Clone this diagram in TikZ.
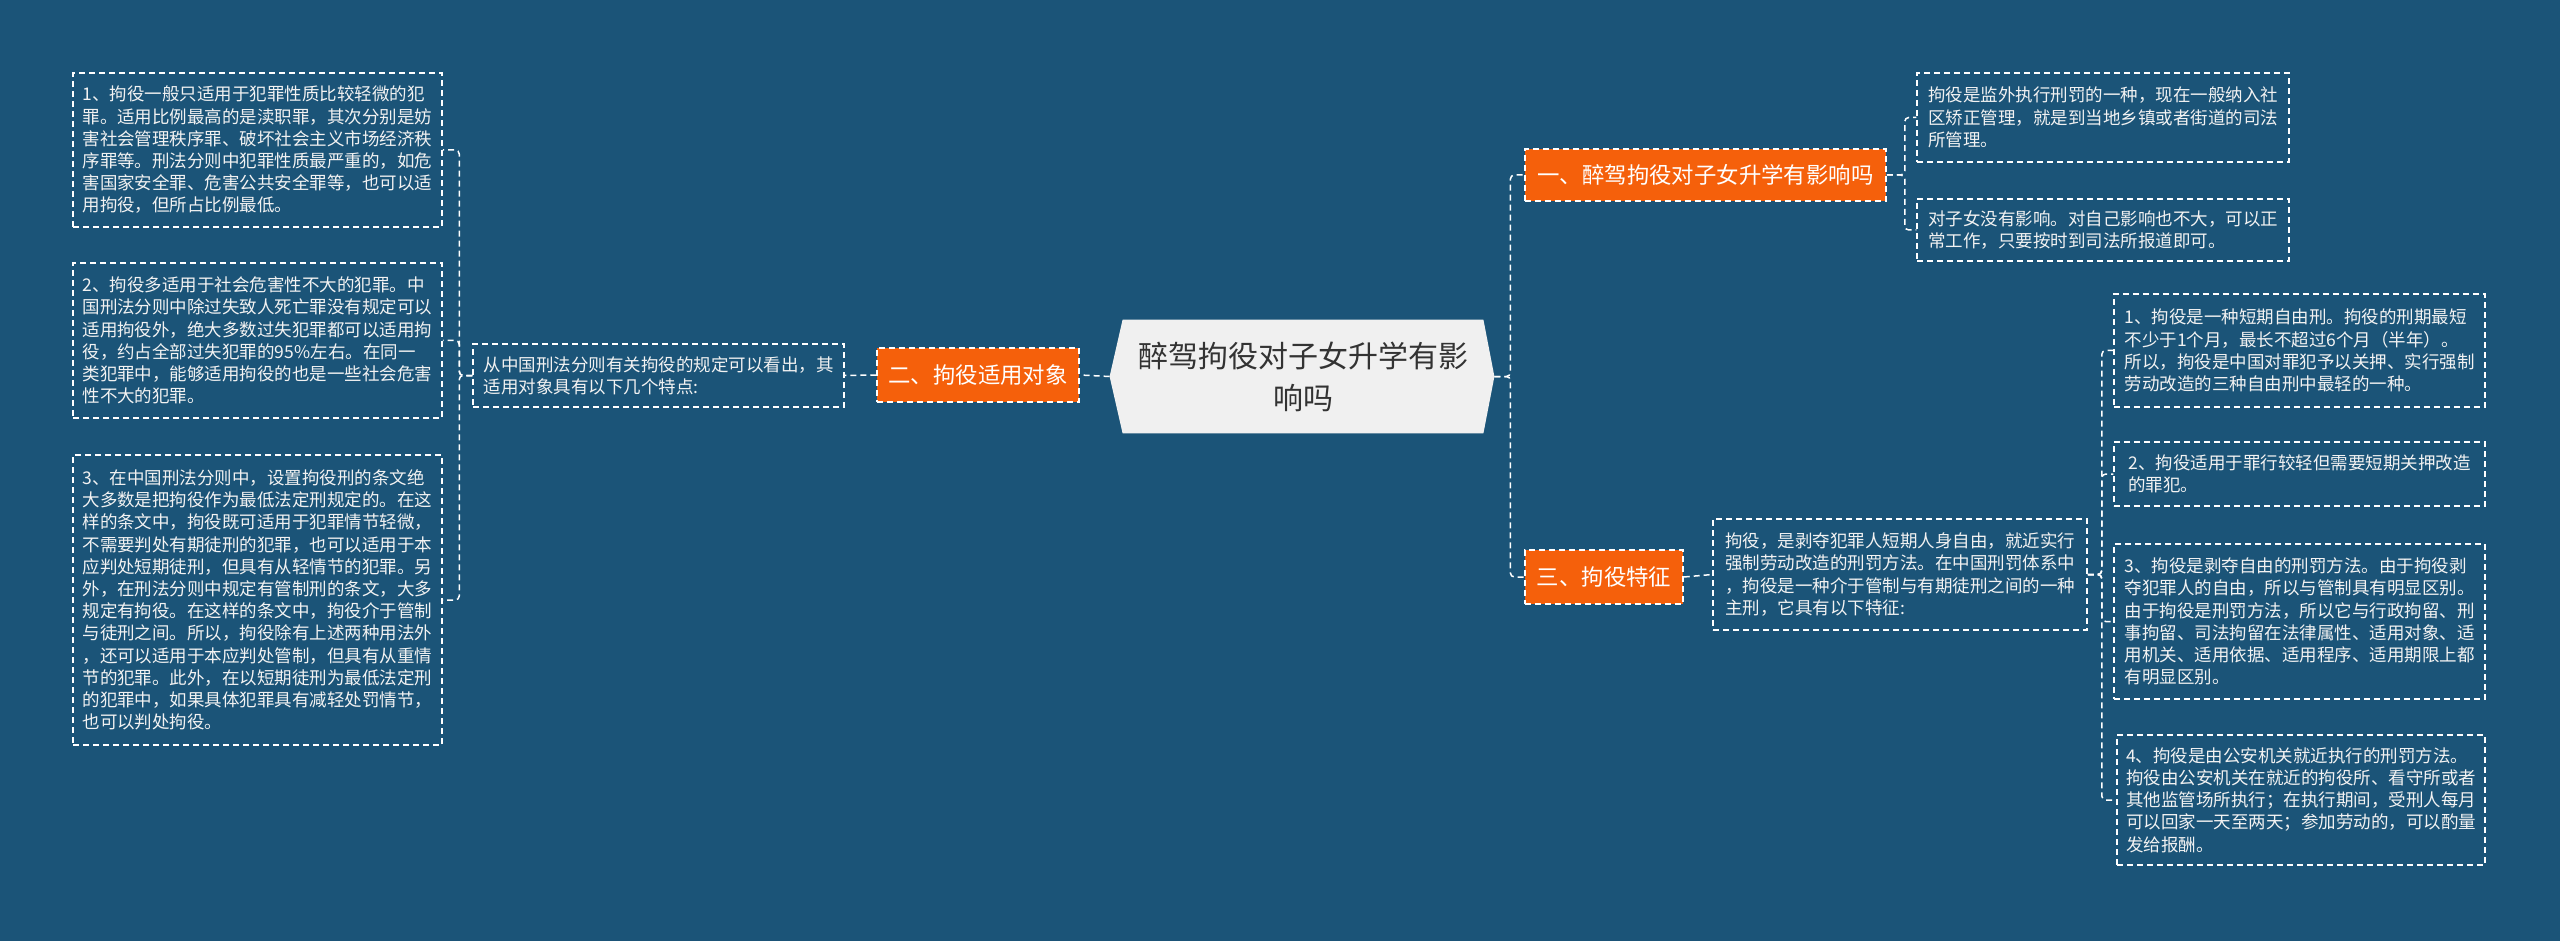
\documentclass[tikz,border=0pt]{standalone}
\usepackage{fontspec}
\setmainfont{Noto Sans CJK SC}
\usetikzlibrary{calc,backgrounds}
\definecolor{bg}{HTML}{1B5478}
\definecolor{org}{HTML}{F5600B}
\definecolor{cfill}{HTML}{F0F0F0}
\definecolor{ctext}{HTML}{333333}
\definecolor{ltext}{HTML}{F2F2F2}
\tikzset{
  dsh/.style={draw=white, line width=0.75pt, dash pattern=on 3pt off 2pt},
  conn/.style={dsh, rounded corners=2pt},
  sz/.style 2 args={minimum width=#1*0.5pt, minimum height=#2*0.5pt},
  leaf/.style={dsh, text=ltext, align=left, inner sep=0pt,
    font=\fontsize{8.75pt}{11.1pt}\selectfont},
  branch/.style={dsh, fill=org, text=white, inner sep=0pt,
    font=\fontsize{11.2pt}{13pt}\selectfont},
  centre/.style={text=ctext, align=center, inner sep=0pt,
    font=\fontsize{15pt}{21pt}\selectfont},
}
\begin{document}
\begin{tikzpicture}[x=0.5pt, y=-0.5pt]
\useasboundingbox (0,0) rectangle (2560,941);
% centre
\node[centre, sz={360}{113}] (c) at (1303,376.5) {醉驾拘役对子女升学有影\\响吗};
\coordinate (cl) at ($(c.west)+(-13,0)$);
\coordinate (cr) at ($(c.east)+(11,0)$);
\begin{pgfonlayer}{background}
  \fill[bg] (0,0) rectangle (2560,941);
  \fill[cfill] (c.north west) -- (c.north east) -- (cr) -- (c.south east)
     -- (c.south west) -- (cl) -- cycle;
\end{pgfonlayer}

% left side
\node[branch, sz={202}{54}] (o2) at (978,375) {二、拘役适用对象};
\node[leaf, sz={371}{63}] (m) at (658.5,375.5) {从中国刑法分则有关拘役的规定可以看出，其\\适用对象具有以下几个特点:};
\node[leaf, sz={369}{154}] (l1) at (257.5,150) {1、拘役一般只适用于犯罪性质比较轻微的犯\\罪。适用比例最高的是渎职罪，其次分别是妨\\害社会管理秩序罪、破坏社会主义市场经济秩\\序罪等。刑法分则中犯罪性质最严重的，如危\\害国家安全罪、危害公共安全罪等，也可以适\\用拘役，但所占比例最低。};
\node[leaf, sz={369}{155}] (l2) at (257.5,340.5) {2、拘役多适用于社会危害性不大的犯罪。中\\国刑法分则中除过失致人死亡罪没有规定可以\\适用拘役外，绝大多数过失犯罪都可以适用拘\\役，约占全部过失犯罪的95\%左右。在同一\\类犯罪中，能够适用拘役的也是一些社会危害\\性不大的犯罪。};
\node[leaf, sz={369}{290}] (l3) at (257.5,600) {3、在中国刑法分则中，设置拘役刑的条文绝\\大多数是把拘役作为最低法定刑规定的。在这\\样的条文中，拘役既可适用于犯罪情节轻微，\\不需要判处有期徒刑的犯罪，也可以适用于本\\应判处短期徒刑，但具有从轻情节的犯罪。另\\外，在刑法分则中规定有管制刑的条文，大多\\规定有拘役。在这样的条文中，拘役介于管制\\与徒刑之间。所以，拘役除有上述两种用法外\\，还可以适用于本应判处管制，但具有从重情\\节的犯罪。此外，在以短期徒刑为最低法定刑\\的犯罪中，如果具体犯罪具有减轻处罚情节，\\也可以判处拘役。};

% right side
\node[branch, sz={361}{52}] (o1) at (1705.5,175) {一、醉驾拘役对子女升学有影响吗};
\node[branch, sz={158}{54}] (o3) at (1604,577) {三、拘役特征};
\node[leaf, sz={372}{89}] (r1a) at (2103,117.5) {拘役是监外执行刑罚的一种，现在一般纳入社\\区矫正管理，就是到当地乡镇或者街道的司法\\所管理。};
\node[leaf, sz={372}{62}] (r1b) at (2103,230) {对子女没有影响。对自己影响也不大，可以正\\常工作，只要按时到司法所报道即可。};
\node[leaf, sz={374}{111}] (r3m) at (1900,574.5) {拘役，是剥夺犯罪人短期人身自由，就近实行\\强制劳动改造的刑罚方法。在中国刑罚体系中\\，拘役是一种介于管制与有期徒刑之间的一种\\主刑，它具有以下特征:};
\node[leaf, sz={371}{113}] (r3a) at (2299.5,350.5) {1、拘役是一种短期自由刑。拘役的刑期最短\\不少于1个月，最长不超过6个月（半年）。\\所以，拘役是中国对罪犯予以关押、实行强制\\劳动改造的三种自由刑中最轻的一种。};
\node[leaf, sz={371}{64}] (r3b) at (2299.5,474) {2、拘役适用于罪行较轻但需要短期关押改造\\的罪犯。};
\node[leaf, sz={371}{155}] (r3c) at (2299.5,621.5) {3、拘役是剥夺自由的刑罚方法。由于拘役剥\\夺犯罪人的自由，所以与管制具有明显区别。\\由于拘役是刑罚方法，所以它与行政拘留、刑\\事拘留、司法拘留在法律属性、适用对象、适\\用机关、适用依据、适用程序、适用期限上都\\有明显区别。};
\node[leaf, sz={368}{130}] (r3d) at (2301,800) {4、拘役是由公安机关就近执行的刑罚方法。\\拘役由公安机关在就近的拘役所、看守所或者\\其他监管场所执行；在执行期间，受刑人每月\\可以回家一天至两天；参加劳动的，可以酌量\\发给报酬。};

% connectors
\draw[conn] (cl) -- (o2.east);
\draw[conn] (o2.west) -- (m.east);
\foreach \t in {l1,l2,l3} \draw[conn] (m.west) -- ++(-13,0) |- (\t.east);
\foreach \t in {o1,o3} \draw[conn] (cr) -- ++(16,0) |- (\t.west);
\foreach \t in {r1a,r1b} \draw[conn] (o1.east) -- ++(18,0) |- (\t.west);
\draw[conn] (o3.east) -- (r3m.west);
\foreach \t in {r3a,r3b,r3c,r3d} \draw[conn] (r3m.east) -- ++(14,0) |- (\t.west);
\end{tikzpicture}
\end{document}
